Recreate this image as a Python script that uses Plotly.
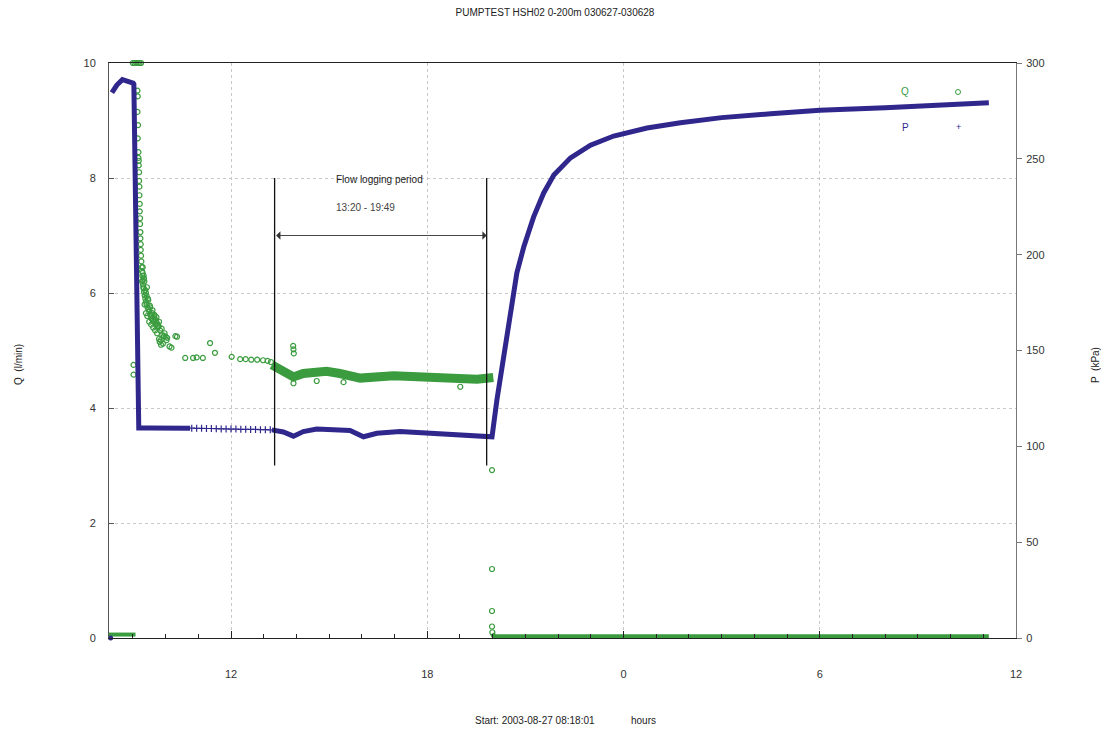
import plotly.graph_objects as go

# ---------------- data (hours of day, continuing past midnight as 24+) -------------
# Pressure P (kPa), dense logging drawn as a thick trace
p_draw_h = [8.36, 8.51, 8.68, 8.85, 9.01, 9.03, 9.18, 9.50, 10.00, 10.50, 10.75]
p_draw_kpa = [284.5, 288.5, 291.3, 290.6, 289.5, 289.0, 109.6, 109.6, 109.6, 109.5, 109.5]

p_sparse_h = [10.80, 10.95, 11.10, 11.25, 11.40, 11.55, 11.70, 11.85, 12.00, 12.15,
              12.30, 12.45, 12.60, 12.75, 12.90, 13.05, 13.20]
p_sparse_kpa = [109.5, 109.4, 109.4, 109.3, 109.3, 109.2, 109.1, 109.1, 109.0, 109.0,
                108.9, 108.9, 108.8, 108.8, 108.7, 108.7, 108.6]

p_rec_h = [13.25, 13.60, 13.91, 14.21, 14.62, 15.44, 15.64, 16.05, 16.46, 17.17, 17.99,
           19.01, 19.98, 20.13, 20.33, 20.54, 20.74, 20.95, 21.25, 21.56, 21.87, 22.38,
           22.99, 23.70, 24.72, 25.74, 27.0, 28.5, 30.0, 32.0, 34.0, 35.17]
p_rec_kpa = [108.6, 107.5, 105.3, 107.7, 109.0, 108.9, 108.3, 105.0, 106.8, 107.7, 107.1,
             105.9, 105.0, 124.2, 144.9, 169.5, 190.5, 204.0, 219.6, 232.2, 241.5, 250.5,
             257.1, 261.9, 266.1, 268.8, 271.5, 273.5, 275.3, 276.6, 278.3, 279.3]

p_first_h = [8.32]
p_first_kpa = [0.0]

# Flow Q (l/min): individual readings
q_pts_h = [9.00, 9.05, 9.10, 9.15, 9.20, 9.25, 9.02, 9.02,
           9.14, 9.15, 9.14, 9.16, 9.15, 9.17, 9.17, 9.18, 9.18, 9.19, 9.19, 9.20,
           9.20, 9.21, 9.21, 9.22, 9.22, 9.23, 9.23, 9.24, 9.24, 9.25, 9.26, 9.27,
           9.28, 9.29, 9.30, 9.31, 9.33, 9.34, 9.36, 9.38, 9.40, 9.42, 9.45, 9.48,
           9.50, 9.53, 9.56, 9.58, 9.61, 9.64, 9.67, 9.70, 9.73, 9.76, 9.79, 9.82,
           9.85, 9.90, 9.95, 10.00, 10.05, 10.12, 10.18, 10.30, 10.35,
           9.35, 9.40, 9.46, 9.52, 9.60, 9.66, 9.72, 9.80, 9.88, 9.30, 9.33, 9.43,
           9.28, 9.30, 9.32, 9.34, 9.36, 9.38, 9.40, 9.42, 9.44, 9.47, 9.50, 9.53,
           9.56, 9.59, 9.62, 9.65, 9.68, 9.71, 9.74, 9.77, 9.80, 9.83, 9.86, 9.92,
           9.97, 10.03,
           10.60, 10.84, 10.95, 11.14, 11.36, 11.51, 12.02, 12.28, 12.45, 12.62,
           12.80, 12.98, 13.12, 13.22,
           13.90, 13.91, 13.92, 13.91, 14.62, 15.44, 19.01,
           19.98, 19.98, 19.98, 19.98, 19.99]
q_pts_v = [10.0, 10.0, 10.0, 10.0, 10.0, 10.0, 4.75, 4.58,
           9.52, 9.42, 9.15, 8.92, 8.69, 8.45, 8.35, 8.30, 8.22, 8.10, 7.95, 7.85,
           7.70, 7.55, 7.42, 7.30, 7.20, 7.06, 6.95, 6.85, 6.75, 6.65, 6.55, 6.45,
           6.38, 6.30, 6.22, 6.15, 6.08, 6.02, 5.96, 5.90, 5.85, 5.80, 5.75, 5.72,
           5.68, 5.62, 5.60, 5.55, 5.52, 5.50, 5.55, 5.45, 5.48, 5.40, 5.42, 5.15,
           5.18, 5.27, 5.25, 5.24, 5.22, 5.07, 5.05, 5.25, 5.24,
           6.20, 6.00, 5.90, 5.78, 5.70, 5.62, 5.58, 5.50, 5.38, 6.45, 6.30, 6.10,
           6.20, 6.35, 6.10, 6.25, 5.80, 6.05, 5.65, 5.95, 5.60, 5.88, 5.50, 5.75,
           5.45, 5.65, 5.40, 5.60, 5.35, 5.52, 5.30, 5.45, 5.20, 5.35, 5.10, 5.12,
           5.30, 5.18,
           4.87, 4.87, 4.88, 4.87, 5.13, 4.96, 4.89, 4.85, 4.85, 4.84,
           4.84, 4.83, 4.82, 4.80,
           5.08, 5.02, 4.95, 4.43, 4.47, 4.45, 4.37,
           2.92, 1.20, 0.47, 0.20, 0.10]

# Flow Q: dense logging bands
q_band_start_h = [8.27, 9.08]
q_band_start_v = [0.06, 0.06]

q_band_log_h = [13.25, 13.60, 13.91, 14.21, 14.92, 15.33, 15.95, 16.97, 17.99, 19.01, 19.52, 20.02]
q_band_log_v = [4.75, 4.66, 4.54, 4.60, 4.64, 4.60, 4.52, 4.56, 4.54, 4.52, 4.50, 4.53]

q_band_end_h = [19.99, 20.05, 35.17]
q_band_end_v = [0.08, 0.02, 0.02]

# Flow logging period
flow_start_h = 13 + 20 / 60
flow_end_h = 19 + 49 / 60

x_tick_vals = [12, 18, 24, 30, 36]
x_tick_text = ["12", "18", "0", "6", "12"]
q_ticks = [0, 2, 4, 6, 8, 10]
p_ticks = [0, 50, 100, 150, 200, 250, 300]

# ---------------- styling ----------------
GREEN = "#3a9c3e"
NAVY = "#30278c"
FONT = "Liberation Sans"
TXT = "#222222"

# page body has an 8px margin, so the figure is shifted by 8px in the screenshot;
# keep the page inside the 1109x733 window (no scrollbars)
OFF = 8
W, H = 1109 - 2 * OFF, 733 - 2 * OFF
PL, PT, PW, PH = 109 - OFF, 63 - OFF, 907, 575


def px_to_paper(sx, sy):
    """screenshot pixel -> paper coords of the plot area"""
    return (sx - 109) / PW, (638 - sy) / PH


fig = go.Figure()

# Q bands
for hx, vy, w in [(q_band_start_h, q_band_start_v, 4),
                  (q_band_log_h, q_band_log_v, 9),
                  (q_band_end_h, q_band_end_v, 5)]:
    fig.add_trace(go.Scatter(x=hx, y=vy, mode="lines", line=dict(color=GREEN, width=w),
                             showlegend=False, hoverinfo="skip"))

# Q points
fig.add_trace(go.Scatter(x=q_pts_h, y=q_pts_v, mode="markers", cliponaxis=False,
                         marker=dict(symbol="circle-open", size=5, color=GREEN,
                                     line=dict(width=1.2, color=GREEN)),
                         showlegend=False))

# P traces
fig.add_trace(go.Scatter(x=p_draw_h, y=p_draw_kpa, yaxis="y2", mode="lines",
                         line=dict(color=NAVY, width=5), showlegend=False))
fig.add_trace(go.Scatter(x=p_rec_h, y=p_rec_kpa, yaxis="y2", mode="lines",
                         line=dict(color=NAVY, width=5), showlegend=False))
fig.add_trace(go.Scatter(x=p_sparse_h, y=p_sparse_kpa, yaxis="y2", mode="markers",
                         marker=dict(symbol="cross-thin", size=5, color=NAVY,
                                     line=dict(width=1.2, color=NAVY)),
                         showlegend=False))
fig.add_trace(go.Scatter(x=p_first_h, y=p_first_kpa, yaxis="y2", mode="markers",
                         cliponaxis=False,
                         marker=dict(symbol="circle", size=5, color=NAVY),
                         showlegend=False))

# Flow logging period markers
shapes = []
for hx in (flow_start_h, flow_end_h):
    shapes.append(dict(type="line", xref="x", yref="y", x0=hx, x1=hx, y0=3.0, y1=8.0,
                       line=dict(color="#111111", width=1.3)))
# legend Q symbol
cx, cy = px_to_paper(958, 92)
shapes.append(dict(type="circle", xref="paper", yref="paper",
                   x0=cx - 2.5 / PW, x1=cx + 2.5 / PW, y0=cy - 2.5 / PH, y1=cy + 2.5 / PH,
                   line=dict(color=GREEN, width=1)))


def pann(sx, sy, text, **kw):
    x, y = px_to_paper(sx, sy)
    d = dict(x=x, y=y, xref="paper", yref="paper", text=text, showarrow=False,
             xanchor="center", yanchor="middle")
    d.update(kw)
    return d


annotations = [
    dict(x=flow_end_h, y=7.0, ax=flow_start_h, ay=7.0, xref="x", yref="y",
         axref="x", ayref="y", text="", showarrow=True, arrowhead=1,
         arrowside="end+start", arrowsize=1.6, arrowwidth=0.9, arrowcolor="#333333"),
    dict(x=16.55, y=7.97, xref="x", yref="y", text="Flow logging period",
         showarrow=False, xanchor="center", yanchor="middle",
         font=dict(family=FONT, size=10, color=TXT)),
    dict(x=16.1, y=7.48, xref="x", yref="y", text="13:20 - 19:49",
         showarrow=False, xanchor="center", yanchor="middle",
         font=dict(family=FONT, size=10, color="#444444")),
    # legend
    pann(905, 92, "Q", font=dict(family=FONT, size=10, color=GREEN)),
    pann(905, 127, "P", font=dict(family=FONT, size=10, color=NAVY)),
    pann(958, 127, "+", font=dict(family=FONT, size=9, color=NAVY)),
    # axis titles
    pann(18, 365, "Q  (l/min)", textangle=-90, font=dict(family=FONT, size=10, color=TXT)),
    pann(1095, 365, "P  (kPa)", textangle=-90, font=dict(family=FONT, size=10, color=TXT)),
    pann(535, 721, "Start: 2003-08-27 08:18:01", font=dict(family=FONT, size=10, color=TXT)),
    pann(643, 721, "hours", font=dict(family=FONT, size=10, color=TXT)),
]

GRID = "#c8c8c8"
fig.update_layout(
    width=W, height=H,
    margin=dict(l=PL, r=W - PL - PW, t=PT, b=H - PT - PH, autoexpand=False),
    paper_bgcolor="white", plot_bgcolor="white",
    font=dict(family=FONT, size=11, color=TXT),
    title=dict(text="PUMPTEST HSH02 0-200m 030627-030628", x=(555 - OFF) / W,
               xanchor="center", y=1 - (12 - OFF) / H, yanchor="middle",
               font=dict(family=FONT, size=10, color=TXT)),
    showlegend=False,
    xaxis=dict(range=[8.27, 36.0], tickvals=x_tick_vals, ticktext=x_tick_text,
               showgrid=True, gridcolor=GRID, griddash="dot", gridwidth=1,
               showline=True, linecolor="#222222", linewidth=1, mirror=True,
               ticks="inside", ticklen=7, tickcolor="#222222",
               minor=dict(dtick=1, tick0=0, ticks="inside", ticklen=4,
                          tickcolor="#222222", showgrid=False),
               ticklabelstandoff=26, zeroline=False,
               tickfont=dict(family=FONT, size=11, color="#333333")),
    yaxis=dict(range=[0, 10], tickvals=q_ticks, showgrid=True, gridcolor=GRID,
               griddash="dot", gridwidth=1, showline=True, linecolor="#555555",
               linewidth=1, ticks="inside", ticklen=5, tickcolor="#555555",
               ticklabelstandoff=10, zeroline=False,
               tickfont=dict(family=FONT, size=11, color="#333333")),
    yaxis2=dict(range=[0, 300], tickvals=p_ticks, overlaying="y", side="right",
                showgrid=False, showline=True, linecolor="#777777", linewidth=1,
                ticks="outside", ticklen=5, tickcolor="#777777", zeroline=False,
                ticklabelstandoff=2,
                tickfont=dict(family=FONT, size=11, color="#333333")),
    shapes=shapes,
    annotations=annotations,
)

fig.write_html("out.html")
